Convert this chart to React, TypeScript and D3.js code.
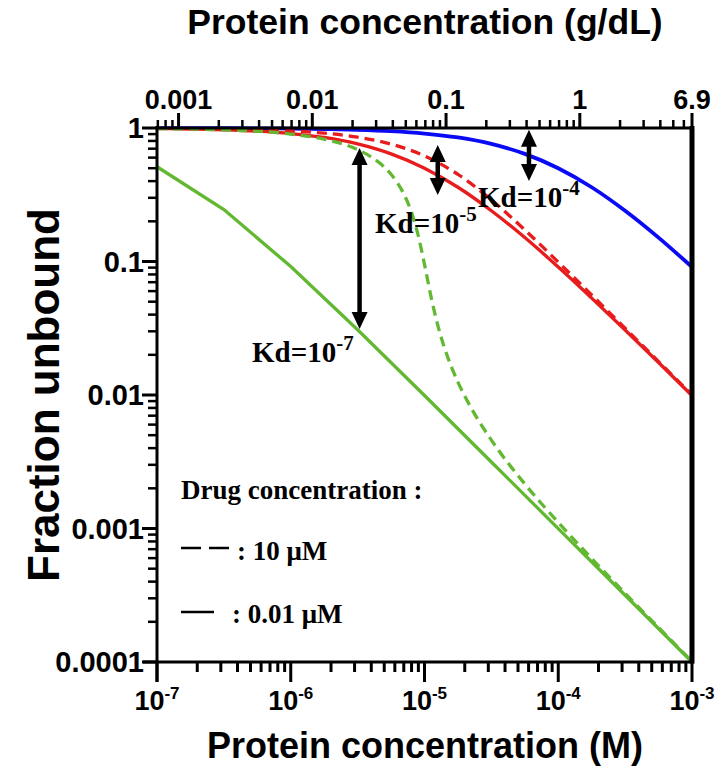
import React from "react";
import * as d3 from "d3";

// ---------- data ----------
// Protein concentration (M) sample points, quarter-decade grid
const proteinQuarter = [
  1e-7, 1.778e-7, 3.162e-7, 5.623e-7, 1e-6, 1.778e-6, 3.162e-6, 5.623e-6,
  1e-5, 1.778e-5, 3.162e-5, 5.623e-5, 1e-4, 1.778e-4, 3.162e-4, 5.623e-4, 1e-3,
];
// Kd = 1e-4 (blue)
const fuKd4 = [
  0.999, 0.9982, 0.9968, 0.9944, 0.99, 0.9825, 0.9693, 0.9468, 0.909, 0.849,
  0.76, 0.64, 0.5, 0.36, 0.24, 0.151, 0.0909,
];
// Kd = 1e-5, drug 0.01 uM (red solid)
const fuKd5Low = [
  0.99, 0.9825, 0.9693, 0.9468, 0.909, 0.849, 0.76, 0.64, 0.5, 0.36, 0.24,
  0.151, 0.0909, 0.0532, 0.0307, 0.0175, 0.0099,
];
// Kd = 1e-5, drug 10 uM (red dashed)
const fuKd5High = [
  0.995, 0.9911, 0.9843, 0.9723, 0.9512, 0.915, 0.8543, 0.7576, 0.618, 0.449,
  0.2897, 0.1725, 0.099, 0.0561, 0.0316, 0.0178, 0.01,
];
// Kd = 1e-7, drug 0.01 uM (green solid), half-decade grid
const proteinHalf = [1e-7, 3.162e-7, 1e-6, 3.162e-6, 1e-5, 3.162e-5, 1e-4, 3.162e-4, 1e-3];
const fuKd7Low = [0.5125, 0.2447, 0.0917, 0.0308, 0.00991, 0.00315, 0.000999, 0.000316, 0.0001];
// Kd = 1e-7, drug 10 uM (green dashed)
const proteinDense = [
  1e-7, 3.162e-7, 1e-6, 1.778e-6, 3.162e-6, 3.981e-6, 5.012e-6, 5.623e-6,
  6.31e-6, 7.079e-6, 7.943e-6, 8.913e-6, 1e-5, 1.122e-5, 1.259e-5, 1.413e-5,
  1.585e-5, 1.778e-5, 2.239e-5, 3.162e-5, 5.623e-5, 1e-4, 1.778e-4, 3.162e-4,
  5.623e-4, 1e-3,
];
const fuKd7High = [
  0.99, 0.9687, 0.9011, 0.8243, 0.6883, 0.608, 0.509, 0.4499, 0.385, 0.3138,
  0.238, 0.161, 0.0951, 0.0538, 0.0331, 0.02245, 0.01635, 0.0125, 0.00796,
  0.004595, 0.002157, 0.00111, 0.000596, 0.0003265, 0.000181, 0.000101,
];

// axis ticks
const xMajor = [1e-7, 1e-6, 1e-5, 1e-4, 1e-3];
const xMajorExp = ["-7", "-6", "-5", "-4", "-3"];
const yMajor = [1, 0.1, 0.01, 0.001, 0.0001];
const yMajorLabels = ["1", "0.1", "0.01", "0.001", "0.0001"];
const topMajor = [0.001, 0.01, 0.1, 1, 6.9];
const topMajorLabels = ["0.001", "0.01", "0.1", "1", "6.9"];
const topDomain = [0.00069, 6.9];

// annotations: arrows (protein M, fu top, fu bottom) and Kd labels
const arrowX = [6.04e-5, 1.256e-5, 3.27e-6];
const arrowTop = [0.97, 0.746, 0.708];
const arrowBottom = [0.4, 0.315, 0.0312];
const kdExp = ["-4", "-5", "-7"];
const kdLabelX = [2.51e-5, 4.27e-6, 5.13e-7];
const kdLabelY = [0.256, 0.1635, 0.01766];

const BLUE = "#0a0af5";
const RED = "#e81c1c";
const GREEN = "#63b832";

const SANS = "'Liberation Sans', Arial, sans-serif";
const SERIF = "'Liberation Serif', 'Times New Roman', serif";

export default function App() {
  const L = 157, R = 692, T = 128, B = 662;
  const x = d3.scaleLog().domain([1e-7, 1e-3]).range([L, R]);
  const y = d3.scaleLog().domain([1e-4, 1]).range([B, T]);
  const xTop = d3.scaleLog().domain(topDomain).range([L, R]);

  const line = (xs: number[], ys: number[], curve: any) =>
    d3
      .line<number>()
      .x((_, i) => x(xs[i]))
      .y((d) => y(d))
      .curve(curve)(ys) as string;

  // minor ticks
  const minors = (lo: number, hi: number, majors: number[]) => {
    const out: number[] = [];
    for (let e = Math.floor(Math.log10(lo)) - 1; e <= Math.ceil(Math.log10(hi)); e++) {
      for (let m = 1; m <= 9; m++) {
        const v = m * Math.pow(10, e);
        if (v >= lo * 0.999 && v <= hi * 1.001 && !majors.some((q) => Math.abs(q - v) / q < 1e-6)) out.push(v);
      }
    }
    return out;
  };
  const xMinor = minors(1e-7, 1e-3, xMajor);
  const yMinor = minors(1e-4, 1, yMajor);
  const topMinor = minors(topDomain[0], topDomain[1], topMajor);

  return (
    <svg
      width={721}
      height={775}
      style={{ position: "absolute", left: 0, top: 0, background: "#fff" }}
    >
      <rect x={0} y={0} width={721} height={775} fill="#fff" />
      {/* curves */}
      <path d={line(proteinQuarter, fuKd4, d3.curveMonotoneX)} fill="none" stroke={BLUE} strokeWidth={3.8} />
      <path d={line(proteinQuarter, fuKd5High, d3.curveMonotoneX)} fill="none" stroke={RED} strokeWidth={3.3} strokeDasharray="10 6" />
      <path d={line(proteinQuarter, fuKd5Low, d3.curveMonotoneX)} fill="none" stroke={RED} strokeWidth={3.3} />
      <path d={line(proteinDense, fuKd7High, d3.curveMonotoneX)} fill="none" stroke={GREEN} strokeWidth={3.3} strokeDasharray="10 6" />
      <path d={line(proteinHalf, fuKd7Low, d3.curveLinear)} fill="none" stroke={GREEN} strokeWidth={3.3} />

      {/* frame */}
      <line x1={R} x2={R} y1={T - 2} y2={B + 1.5} stroke="#000" strokeWidth={5} />
      {/* bottom axis */}
      <line x1={L - 14} x2={R + 2} y1={B} y2={B} stroke="#000" strokeWidth={3} />
      {xMajor.map((v, i) => (
        <g key={"xm" + i}>
          <line x1={x(v)} x2={x(v)} y1={B} y2={B + 20} stroke="#000" strokeWidth={3} />
          <text x={x(v)} y={710} textAnchor="middle" fontFamily={SANS} fontWeight="bold" fontSize={27}>
            10
            <tspan dy={-11} fontSize={17}>{xMajorExp[i]}</tspan>
          </text>
        </g>
      ))}
      {xMinor.map((v, i) => (
        <line key={"xn" + i} x1={x(v)} x2={x(v)} y1={B} y2={B + 10} stroke="#000" strokeWidth={3} />
      ))}
      {/* left axis */}
      <line x1={L} x2={L} y1={T - 2} y2={B + 20} stroke="#000" strokeWidth={3} />
      {yMajor.map((v, i) => (
        <g key={"ym" + i}>
          <line x1={L - 15} x2={L} y1={y(v)} y2={y(v)} stroke="#000" strokeWidth={3} />
          <text x={L - 13} y={y(v) + 10} textAnchor="end" fontFamily={SANS} fontWeight="bold" fontSize={29}>
            {yMajorLabels[i]}
          </text>
        </g>
      ))}
      {yMinor.map((v, i) => (
        <line key={"yn" + i} x1={L - 9} x2={L} y1={y(v)} y2={y(v)} stroke="#000" strokeWidth={2.5} />
      ))}
      {/* top axis */}
      <line x1={L - 1.5} x2={R + 2} y1={T} y2={T} stroke="#000" strokeWidth={3} />
      {topMajor.map((v, i) => (
        <g key={"tm" + i}>
          <line x1={xTop(v)} x2={xTop(v)} y1={T} y2={T - 15} stroke="#000" strokeWidth={3} />
          <text x={xTop(v)} y={T - 19} textAnchor="middle" fontFamily={SANS} fontWeight="bold" fontSize={27}>
            {topMajorLabels[i]}
          </text>
        </g>
      ))}
      {topMinor.map((v, i) => (
        <line key={"tn" + i} x1={xTop(v)} x2={xTop(v)} y1={T} y2={T - 8} stroke="#000" strokeWidth={2.5} />
      ))}

      {/* axis titles */}
      <text x={425} y={34} textAnchor="middle" fontFamily={SANS} fontWeight="bold" fontSize={35.5}>
        Protein concentration (g/dL)
      </text>
      <text x={425} y={758} textAnchor="middle" fontFamily={SANS} fontWeight="bold" fontSize={36}>
        Protein concentration (M)
      </text>
      <text
        transform="translate(59,395) rotate(-90)"
        textAnchor="middle"
        fontFamily={SANS}
        fontWeight="bold"
        fontSize={44}
      >
        Fraction unbound
      </text>

      {/* arrows */}
      {arrowX.map((v, i) => {
        const ax = x(v);
        const yt = y(arrowTop[i]);
        const yb = y(arrowBottom[i]);
        const hh = 17, hw = 8;
        return (
          <g key={"ar" + i}>
            <line x1={ax} x2={ax} y1={yt + hh - 2} y2={yb - hh + 2} stroke="#000" strokeWidth={4.5} />
            <path d={`M${ax},${yt} L${ax - hw},${yt + hh} L${ax + hw},${yt + hh} Z`} fill="#000" />
            <path d={`M${ax},${yb} L${ax - hw},${yb - hh} L${ax + hw},${yb - hh} Z`} fill="#000" />
          </g>
        );
      })}
      {kdLabelX.map((v, i) => (
        <text key={"kd" + i} x={x(v)} y={y(kdLabelY[i])} fontFamily={SERIF} fontWeight="bold" fontSize={29}>
          Kd=10
          <tspan dy={-12} fontSize={21}>{kdExp[i]}</tspan>
        </text>
      ))}

      {/* legend */}
      <text x={181} y={499} fontFamily={SERIF} fontWeight="bold" fontSize={27}>
        Drug concentration :
      </text>
      <line x1={181} x2={201} y1={548} y2={548} stroke="#000" strokeWidth={2.5} />
      <line x1={209} x2={229} y1={548} y2={548} stroke="#000" strokeWidth={2.5} />
      <text x={237} y={560} fontFamily={SERIF} fontWeight="bold" fontSize={27}>
        : 10 μM
      </text>
      <line x1={181} x2={214} y1={612} y2={612} stroke="#000" strokeWidth={2.5} />
      <text x={232} y={623} fontFamily={SERIF} fontWeight="bold" fontSize={27}>
        : 0.01 μM
      </text>
    </svg>
  );
}
